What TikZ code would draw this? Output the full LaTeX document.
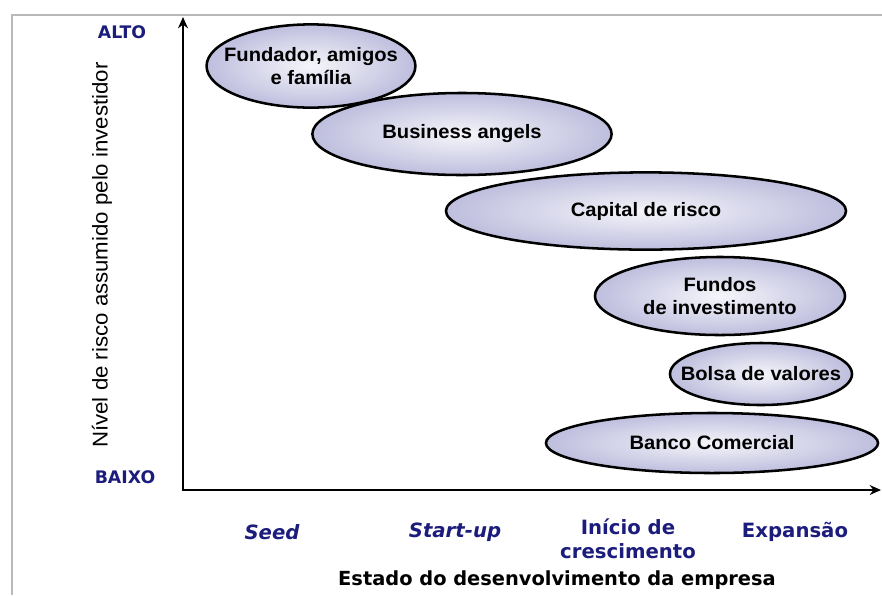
\documentclass[tikz,border=0pt]{standalone}
\usepackage{fontspec}
\setmainfont{Liberation Sans}[FakeStretch=1.04]
\newfontfamily\largafonte{DejaVu Sans}
\usetikzlibrary{shapes.geometric,arrows.meta}

\definecolor{estagio}{RGB}{28,28,125}
\definecolor{lilas}{RGB}{190,190,222}
\definecolor{moldura}{RGB}{185,185,185}

\tikzset{
  fonte/.style={ellipse, draw=black, line width=1.8pt, inner sep=0pt,
    inner color=white!85!lilas, outer color=lilas,
    label={[font=\bfseries\fontsize{13.8}{16}\selectfont, align=center]center:#1}},
  eixo/.style={line width=2pt, {Stealth[length=8pt,width=7pt]}-{Stealth[length=8pt,width=7pt]}},
  nivel/.style={text=estagio, font=\largafonte\bfseries\fontsize{12.3}{14}\selectfont},
  estado/.style={text=estagio, font=\largafonte\bfseries\fontsize{14}{17}\selectfont, align=center},
  rotulo/.style={font=\fontsize{15.2}{18}\selectfont}
}

\begin{document}
\begin{tikzpicture}[x=0.025cm,y=-0.025cm]
\useasboundingbox (0,0) rectangle (882,595);
% moldura da figura
\draw[moldura, line width=1.3pt] (12,595) -- (12,15) -- (882,15);

% eixos
\coordinate (origem) at (183,490);
\coordinate (topo) at (183,17);
\coordinate (fim) at (881,490);
\draw[eixo] (topo) -- (origem) -- (fim);

\node[nivel] (alto) at (122,32) {ALTO};
\node[nivel] (baixo) at (125,477) {BAIXO};
\node[rotulo, rotate=90] (risco) at (102,255) {Nível de risco assumido pelo investidor};

% fontes de financiamento
\node[fonte={Fundador, amigos\\e família}, minimum width=5.22cm, minimum height=2.08cm] (fundador) at (311,66) {};
\node[fonte={Business angels}, minimum width=7.48cm, minimum height=2.05cm] (angels) at (462,134) {};
\node[fonte={Capital de risco}, minimum width=10cm, minimum height=1.93cm] (capital) at (646,211) {};
\node[fonte={Fundos\\de investimento}, minimum width=6.25cm, minimum height=1.95cm] (fundos) at (720,296) {};
\node[fonte={Bolsa de valores}, minimum width=4.55cm, minimum height=1.55cm] (bolsa) at (761,374) {};
\node[fonte={Banco Comercial}, minimum width=8.3cm, minimum height=1.5cm] (banco) at (712,443) {};

% estados da empresa
\node[estado] (seed) at (272,532) {\itshape Seed};
\node[estado] (startup) at (455,532) {\itshape Start-up};
\node[estado] (inicio) at (628,539) {Início de\\crescimento};
\node[estado] (expansao) at (795,532) {Expansão};
\node[font=\largafonte\bfseries\fontsize{13.8}{16}\selectfont] (titulo) at (557,580) {Estado do desenvolvimento da empresa};
\end{tikzpicture}
\end{document}
